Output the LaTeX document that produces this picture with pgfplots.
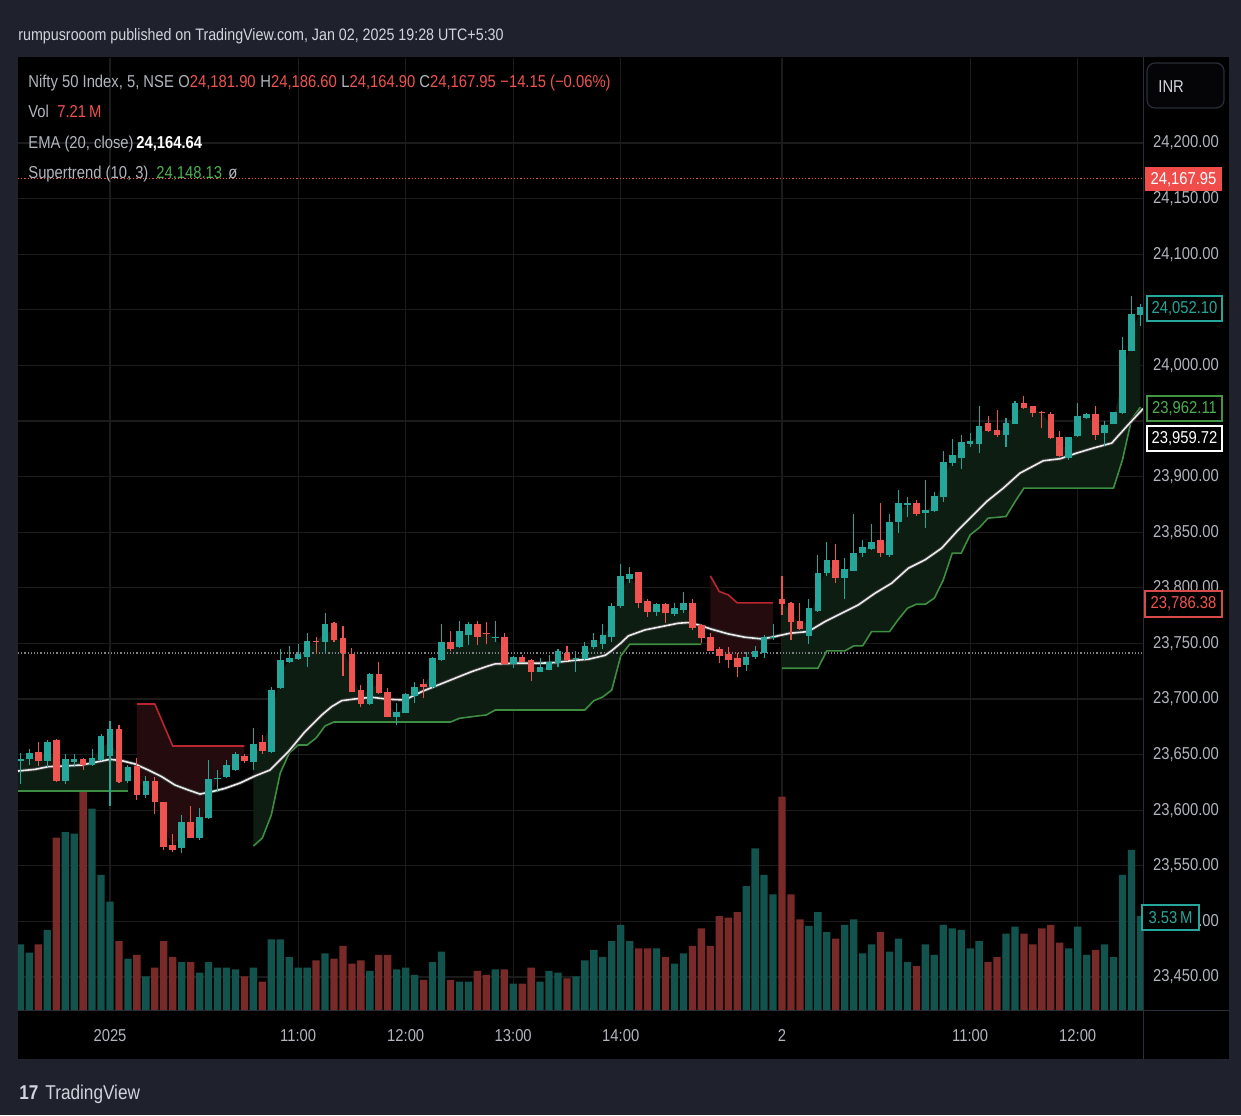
\documentclass[border=0pt]{standalone}
\usepackage{fontspec}
\setmainfont{Liberation Sans}[FakeStretch=0.86]
\usepackage{pgfplots}
\pgfplotsset{compat=1.18}
\usepackage{pgfplotstable}
\definecolor{frame}{HTML}{1F222D}
\definecolor{gridc}{HTML}{1B1B1B}
\definecolor{upc}{HTML}{26A69A}
\definecolor{dnc}{HTML}{EF5350}
\definecolor{vup}{HTML}{13534D}
\definecolor{vdn}{HTML}{782A28}
\definecolor{stg}{HTML}{3E8E41}
\definecolor{str}{HTML}{B8262F}
\definecolor{stgf}{HTML}{0E1D11}
\definecolor{strf}{HTML}{240C0E}
\definecolor{txt}{HTML}{B2B5BE}
\definecolor{wtxt}{HTML}{D1D4DC}
\definecolor{grn}{HTML}{4CAF50}
\definecolor{sep}{HTML}{2A2E39}

\pgfplotstableread{
i o h l c v
-10 23643.9 23651.7 23623.5 23645.7 2.47
-9 23645.7 23654.7 23640.6 23651.7 2.16
-8 23652.0 23661.6 23639.7 23644.2 2.47
-7 23644.2 23663.1 23638.5 23661.6 3.01
-6 23663.1 23664.0 23625.5 23626.5 6.48
-5 23626.2 23650.5 23623.2 23645.7 6.69
-4 23643.6 23650.5 23639.1 23645.7 6.63
-3 23645.7 23647.2 23636.1 23640.6 8.98
-2 23640.6 23654.7 23639.7 23647.2 7.57
-1 23645.1 23668.5 23644.5 23666.7 5.08
0 23648.7 23680.5 23603.7 23672.7 4.08
1 23672.7 23676.6 23624.1 23625.6 2.59
2 23626.5 23640.6 23624.7 23639.1 1.93
3 23639.7 23647.2 23609.1 23613.6 2.07
4 23613.6 23630.7 23610.6 23626.5 1.26
5 23626.5 23629.5 23596.5 23607.0 1.59
6 23607.0 23607.5 23564.1 23567.1 2.59
7 23568.6 23578.5 23562.6 23564.1 1.99
8 23565.6 23595.6 23561.1 23589.6 1.80
9 23589.6 23603.7 23574.6 23575.2 1.80
10 23575.2 23601.6 23573.1 23594.1 1.41
11 23592.6 23645.1 23592.0 23627.7 1.80
12 23627.7 23636.1 23616.6 23629.2 1.59
13 23629.8 23645.1 23628.9 23640.6 1.59
14 23636.1 23652.6 23635.5 23650.5 1.53
15 23648.7 23650.5 23642.7 23644.2 1.26
16 23643.6 23674.2 23636.1 23659.5 1.59
17 23661.6 23667.6 23650.5 23653.5 1.07
18 23652.6 23711.1 23651.1 23708.1 2.66
19 23709.6 23744.7 23709.0 23735.1 2.66
20 23733.6 23747.7 23732.1 23736.6 1.99
21 23735.7 23749.5 23735.1 23740.2 1.59
22 23737.5 23759.1 23729.1 23752.5 1.59
23 23752.5 23756.1 23740.5 23751.6 1.87
24 23751.6 23777.1 23741.1 23767.2 2.13
25 23768.7 23769.3 23751.6 23753.1 1.93
26 23754.6 23765.7 23720.7 23741.1 2.41
27 23740.2 23746.2 23706.0 23706.6 1.74
28 23708.1 23712.6 23692.5 23695.5 1.87
29 23695.5 23723.7 23695.0 23722.5 1.47
30 23722.5 23733.6 23704.6 23705.1 2.07
31 23706.6 23709.6 23683.5 23684.1 2.07
32 23684.1 23696.7 23676.3 23688.6 1.53
33 23687.7 23705.1 23687.1 23704.5 1.59
34 23702.7 23715.6 23696.7 23711.1 1.32
35 23713.2 23717.7 23700.6 23711.1 1.13
36 23710.5 23737.8 23710.0 23737.2 1.80
37 23735.1 23767.5 23734.5 23751.6 2.20
38 23751.6 23761.2 23743.5 23744.7 1.13
39 23746.5 23770.5 23746.0 23761.2 1.07
40 23757.6 23769.6 23748.6 23767.2 1.07
41 23767.5 23770.5 23748.6 23756.1 1.47
42 23759.7 23769.6 23749.5 23758.5 1.32
43 23754.6 23770.5 23751.6 23756.1 1.53
44 23756.1 23759.1 23730.6 23731.2 1.53
45 23731.5 23738.6 23727.6 23738.1 0.99
46 23738.1 23739.6 23733.1 23733.6 0.99
47 23735.1 23735.6 23716.2 23724.6 1.59
48 23724.6 23736.6 23724.1 23728.5 1.07
49 23726.1 23739.6 23725.6 23733.6 1.47
50 23732.7 23744.7 23729.1 23743.5 1.41
51 23741.1 23747.7 23734.5 23735.1 1.19
52 23735.7 23743.5 23724.0 23737.2 1.26
53 23735.7 23751.6 23735.2 23747.7 1.87
54 23746.5 23759.1 23744.7 23753.1 2.26
55 23749.5 23767.5 23745.0 23757.6 1.99
56 23756.1 23786.1 23751.6 23783.7 2.59
57 23783.7 23821.5 23781.6 23810.7 3.20
58 23807.7 23819.1 23804.1 23812.2 2.59
59 23814.0 23814.5 23782.2 23786.7 2.32
60 23788.2 23789.7 23773.5 23778.6 2.32
61 23778.6 23786.7 23774.7 23785.2 2.32
62 23785.2 23786.7 23768.7 23777.1 1.99
63 23776.5 23786.7 23774.7 23781.6 1.74
64 23780.1 23796.0 23777.7 23786.7 2.13
65 23786.7 23789.7 23762.1 23763.6 2.41
66 23766.6 23767.1 23750.1 23754.6 3.07
67 23756.1 23759.7 23743.0 23743.5 2.41
68 23744.7 23746.5 23732.1 23738.7 3.53
69 23740.2 23746.5 23727.6 23735.1 3.47
70 23736.6 23741.1 23719.5 23728.5 3.68
71 23730.6 23742.6 23725.5 23738.1 4.66
72 23737.5 23747.7 23736.0 23743.5 6.08
73 23741.7 23757.6 23736.6 23756.1 5.08
74 23754.6 23767.5 23753.1 23756.1 4.35
75 23789.7 23810.7 23775.6 23785.2 8.02
76 23786.7 23787.2 23753.1 23769.0 4.35
77 23770.5 23786.7 23762.1 23762.7 3.41
78 23756.7 23789.7 23749.5 23781.6 3.16
79 23779.5 23829.6 23778.6 23813.7 3.68
80 23813.7 23840.7 23810.7 23825.1 2.93
81 23825.1 23839.5 23804.1 23808.6 2.68
82 23808.6 23826.6 23789.7 23816.7 3.20
83 23815.5 23866.5 23815.0 23831.1 3.41
84 23831.7 23842.5 23828.1 23836.5 2.13
85 23834.7 23857.2 23834.1 23840.7 2.47
86 23842.5 23876.1 23828.1 23831.7 2.93
87 23829.6 23866.5 23828.1 23858.7 2.20
88 23858.7 23887.5 23849.1 23876.1 2.68
89 23874.6 23881.5 23863.5 23876.1 1.80
90 23876.1 23879.1 23864.7 23866.5 1.65
91 23867.1 23897.1 23853.6 23870.1 2.47
92 23868.6 23885.7 23868.0 23882.7 2.07
93 23881.2 23922.6 23876.7 23913.0 3.20
94 23912.1 23933.7 23909.1 23919.6 3.07
95 23916.6 23937.6 23906.7 23930.7 3.01
96 23929.5 23939.1 23926.5 23931.6 2.32
97 23929.5 23963.1 23921.1 23945.1 2.59
98 23948.1 23954.7 23940.1 23940.6 1.80
99 23942.1 23960.1 23935.5 23937.0 1.99
100 23937.6 23952.6 23926.5 23948.1 2.87
101 23947.5 23967.6 23947.0 23966.1 3.14
102 23966.1 23972.1 23961.1 23961.6 2.87
103 23963.1 23963.6 23953.5 23957.1 2.47
104 23958.3 23958.6 23943.6 23957.1 3.07
105 23956.5 23957.7 23933.7 23934.6 3.20
106 23935.5 23940.6 23917.6 23918.1 2.53
107 23916.6 23936.0 23915.1 23935.5 2.32
108 23936.1 23966.1 23935.6 23954.7 3.14
109 23952.6 23957.1 23951.7 23956.5 2.07
110 23956.5 23963.1 23933.1 23937.6 2.26
111 23939.1 23949.6 23927.1 23946.6 2.47
112 23947.5 23958.2 23947.0 23957.7 1.99
113 23957.1 24025.5 23956.6 24014.1 5.08
114 24013.2 24062.1 24012.6 24046.2 6.02
115 24045.0 24055.5 24035.1 24052.1 3.53
}\candles

\pgfplotstableread{
x y
-10.27 23617.5
2 23617.5
}\stA
\pgfplotstableread{
x y
3 23695.5
5 23695.5
7 23657.7
15 23657.7
}\stB
\pgfplotstableread{
x y
16 23567.7
17 23574.9
18 23595.6
19 23633.4
20 23651.4
21 23658.6
22 23658.6
23 23664.9
24 23675.7
25 23679.3
38 23679.3
39 23682.6
41 23684.7
42 23685.6
43 23690.1
53 23690.1
54 23698.5
55 23701.8
56 23708.1
57 23738.7
58 23749.2
66 23749.2
}\stC
\pgfplotstableread{
x y
67 23810.7
68 23796.6
69 23793.6
70 23786.4
74 23786.4
}\stD
\pgfplotstableread{
x y
75 23727.6
79 23727.6
80 23743.2
82 23743.2
83 23747.7
84 23747.7
85 23760.6
87 23760.6
88 23771.7
89 23781.6
90 23785.2
91 23785.2
92 23790.6
93 23807.1
94 23831.1
95 23831.1
96 23847.6
97 23853.9
98 23862.6
100 23864.1
101 23877.3
102 23889.6
112 23889.6
113 23915.1
114 23951.1
115 23962.4
}\stE
\pgfplotstableread{
x y
-10.27 23635.2
-8.37 23636.7
-6.89 23639.1
-5.02 23639.7
-3.16 23640.6
-1.31 23643.6
0 23645.7
1.31 23644.5
2.79 23641.5
4.27 23636.1
5.77 23630.1
7.25 23622.6
8.74 23618.1
10.04 23614.5
11.35 23616.6
12.83 23619.6
14.51 23624.4
16.18 23630.7
17.86 23636.1
19.9 23652.6
21.76 23670.6
23.63 23685.6
24.74 23693.1
25.86 23698.5
27.34 23700.0
29.21 23701.5
31.06 23699.7
32.92 23699.1
34.79 23706.6
36.64 23712.6
38.5 23718.6
40.37 23724.6
42.22 23729.7
42.97 23731.5
45.2 23732.1
47.8 23732.1
49.67 23732.7
51.53 23734.5
53.38 23735.7
55.25 23739.2
56 23743.5
57 23750.2
57.85 23756.7
59.71 23762.1
61.57 23765.1
63.43 23768.1
64.54 23768.7
65.66 23766.6
67.15 23762.7
69.0 23758.5
70.87 23755.5
72.73 23754.0
73.85 23755.5
75.89 23759.1
77.93 23760.6
79.8 23769.6
81.66 23777.1
83.52 23784.6
85.38 23795.1
87.24 23804.1
89.1 23817.6
90.96 23825.1
92.82 23835.6
94.68 23852.1
96.54 23867.1
97.85 23877.6
99.7 23889.6
101.56 23903.1
104.16 23914.2
106.03 23916.0
107.89 23921.1
109.74 23925.6
111.8 23930.1
113.47 23945.1
115.29 23961.0
}\ema

\pgfplotsset{base/.style={at={(9pt,52.5pt)}, anchor=south west, scale only axis,
  width=562.5pt, height=476pt, xmin=-10.27, xmax=115.29},
  candle/.style={only marks, mark=*, mark size=0pt, mark options={draw=none, fill=none},
    error bars/.cd, y dir=plus, y explicit, error mark=none}}
\newcommand\fs{\fontsize{8.6}{10}\selectfont}

\begin{document}
\begin{tikzpicture}
\begin{scope}[yshift=557.5pt, x=0.5pt, y=-0.5pt]
  \fill[frame] (0,0) rectangle (1241,1115);
  \fill[black] (18,57) rectangle (1229,1059);
  \node[anchor=base west, inner sep=0, text=wtxt, font=\fontsize{8.3}{10}\selectfont] at (18,41)
    {rumpusrooom published on TradingView.com, Jan 02, 2025 19:28 UTC+5:30};
\end{scope}

% grid and tick labels
\begin{axis}[base, ymin=23420.3, ymax=24276.4,
  axis line style={draw=none}, major tick length=0pt,
  scaled y ticks=false, scaled x ticks=false,
  xtick={0,21,33,45,57,75,96,108},
  xticklabels={2025,11:00,12:00,13:00,14:00,2,11:00,12:00},
  ytick={23450,23500,...,24200},
  yticklabels={{23,450.00},{23,500.00},{23,550.00},{23,600.00},{23,650.00},{23,700.00},{23,750.00},{23,800.00},{23,850.00},{23,900.00},{},{24,000.00},{},{24,100.00},{24,150.00},{24,200.00}},
  yticklabel pos=right,
  xmajorgrids, ymajorgrids, grid style={gridc, line width=0.6pt},
  ticklabel style={font=\fs, text=txt},
  xticklabel style={anchor=center, yshift=-12.5pt, text height=6.2pt, text depth=0pt},
  yticklabel style={anchor=center, xshift=21.5pt}]
\addplot[draw=none, mark=none] coordinates {(0,23500)};
\end{axis}

% volume
\begin{axis}[base, ymin=0, ymax=35.8, hide axis]
\addplot[ybar, bar width=3.65pt, bar shift=0pt, fill=vup, draw=none, mark=none]
  table[x expr={\thisrow{c}>=\thisrow{o} ? \thisrow{i} : nan}, y=v] {\candles};
\addplot[ybar, bar width=3.65pt, bar shift=0pt, fill=vdn, draw=none, mark=none]
  table[x expr={\thisrow{c}<\thisrow{o} ? \thisrow{i} : nan}, y=v] {\candles};
\end{axis}

% price content
\begin{axis}[base, ymin=23420.3, ymax=24276.4, axis lines=none, ticks=none]
% supertrend fills: trend line forward, body middle (open+close)/2 back
\addplot[fill=stgf, draw=none, mark=none] coordinates {(-10.27,23617.5) (2,23617.5) (2,23632.8) (1,23649.2) (0,23660.7) (-1,23655.9) (-2,23643.9) (-3,23643.2) (-4,23644.7) (-5,23636.0) (-6,23644.8) (-7,23652.9) (-8,23648.1) (-9,23648.7) (-10,23644.8) (-10.27,23644.8)};
\addplot[fill=strf, draw=none, mark=none] coordinates {(3,23695.5) (5,23695.5) (7,23657.7) (15,23657.7) (15,23646.5) (14,23643.3) (13,23635.2) (12,23628.5) (11,23610.2) (10,23584.7) (9,23582.4) (8,23577.6) (7,23566.4) (6,23587.1) (5,23616.8) (4,23620.1) (3,23626.7)};
\addplot[fill=stgf, draw=none, mark=none] coordinates {(16,23567.7) (17,23574.9) (18,23595.6) (19,23633.4) (20,23651.4) (21,23658.6) (22,23658.6) (23,23664.9) (24,23675.7) (25,23679.3) (38,23679.3) (39,23682.6) (41,23684.7) (42,23685.6) (43,23690.1) (53,23690.1) (54,23698.5) (55,23701.8) (56,23708.1) (57,23738.7) (58,23749.2) (66,23749.2)
 (66,23760.6) (65,23775.2) (64,23783.4) (63,23779.1) (62,23781.2) (61,23781.9) (60,23783.4) (59,23800.4) (58,23810.0) (57,23797.2) (56,23769.9) (55,23753.6) (54,23749.8) (53,23741.7) (52,23736.5) (51,23738.1) (50,23738.1) (49,23729.9) (48,23726.6) (47,23729.9) (46,23735.9) (45,23734.8) (44,23743.7) (43,23755.4) (42,23759.1) (41,23761.8) (40,23762.4) (39,23753.9) (38,23748.2) (37,23743.4) (36,23723.9) (35,23712.2) (34,23706.9) (33,23696.1) (32,23686.4) (31,23695.4) (30,23713.8) (29,23709.0) (28,23701.8) (27,23723.4) (26,23747.9) (25,23760.9) (24,23759.4) (23,23752.1) (22,23745.0) (21,23738.0) (20,23735.1) (19,23722.4) (18,23680.4) (17,23657.6) (16,23651.6)};
\addplot[fill=strf, draw=none, mark=none] coordinates {(67,23810.7) (68,23796.6) (69,23793.6) (70,23786.4) (74,23786.4) (74,23755.4) (73,23748.9) (72,23740.5) (71,23734.4) (70,23732.6) (69,23737.7) (68,23741.7) (67,23749.8)};
\addplot[fill=stgf, draw=none, mark=none] coordinates {(75,23727.6) (79,23727.6) (80,23743.2) (82,23743.2) (83,23747.7) (84,23747.7) (85,23760.6) (87,23760.6) (88,23771.7) (89,23781.6) (90,23785.2) (91,23785.2) (92,23790.6) (93,23807.1) (94,23831.1) (95,23831.1) (96,23847.6) (97,23853.9) (98,23862.6) (100,23864.1) (101,23877.3) (102,23889.6) (112,23889.6) (113,23915.1) (114,23951.1) (115,23962.4)
 (115,24048.6) (114,24029.7) (113,23985.6) (112,23952.6) (111,23942.9) (110,23947.1) (109,23954.6) (108,23945.4) (107,23926.1) (106,23926.8) (105,23945.6) (104,23957.7) (103,23960.1) (102,23963.9) (101,23956.8) (100,23942.9) (99,23939.6) (98,23944.4) (97,23937.3) (96,23930.6) (95,23923.7) (94,23915.9) (93,23897.1) (92,23875.7) (91,23868.6) (90,23871.3) (89,23875.4) (88,23867.4) (87,23844.2) (86,23837.1) (85,23837.7) (84,23834.1) (83,23823.3) (82,23812.7) (81,23816.9) (80,23819.4) (79,23796.6) (78,23769.2) (77,23766.6) (76,23777.9) (75,23787.5)};
\addplot[densely dotted, color=txt!70!black, line width=0.6pt, mark=none] coordinates {(-10.27,23741.4) (115.29,23741.4)};
\addplot[densely dotted, color=dnc, line width=0.6pt, mark=none] coordinates {(-10.27,24167.95) (115.29,24167.95)};
\addplot[stg, line width=0.8pt, mark=none] table {\stA};
\addplot[str, line width=0.8pt, mark=none] table {\stB};
\addplot[stg, line width=0.8pt, mark=none] table {\stC};
\addplot[str, line width=0.8pt, mark=none] table {\stD};
\addplot[stg, line width=0.8pt, mark=none] table {\stE};
\addplot[color=gray!45!black, line width=1.8pt, mark=none] table {\ema};
\addplot[color=white!85!gray, line width=0.8pt, mark=none] table {\ema};
% wicks
\addplot[candle, error bar style={solid, draw=upc, line width=0.55pt}]
  table[x expr={\thisrow{c}>=\thisrow{o} ? \thisrow{i} : nan}, y=l, y error plus expr={\thisrow{h}-\thisrow{l}}] {\candles};
\addplot[candle, error bar style={solid, draw=dnc, line width=0.55pt}]
  table[x expr={\thisrow{c}<\thisrow{o} ? \thisrow{i} : nan}, y=l, y error plus expr={\thisrow{h}-\thisrow{l}}] {\candles};
% bodies
\addplot[candle, error bar style={solid, draw=upc, line width=3.3pt}]
  table[x expr={\thisrow{c}>=\thisrow{o} ? \thisrow{i} : nan}, y=o, y error plus expr={max(\thisrow{c}-\thisrow{o},0.7)}] {\candles};
\addplot[candle, error bar style={solid, draw=dnc, line width=3.3pt}]
  table[x expr={\thisrow{c}<\thisrow{o} ? \thisrow{i} : nan}, y=c, y error plus expr={max(\thisrow{o}-\thisrow{c},0.7)}] {\candles};
\end{axis}

\begin{scope}[yshift=557.5pt, x=0.5pt, y=-0.5pt]
  \draw[sep, line width=0.5pt] (1143,57) -- (1143,1059);
  \draw[sep, line width=0.5pt] (18,1010) -- (1229,1010);
  % legend
  \begin{scope}[every node/.style={anchor=base west, inner sep=0, font=\fs}]
    \node[text=txt] at (28,88) {Nifty 50 Index, 5, NSE};
    \node at (178,88) {\color{txt}O\color{dnc}24,181.90};
    \node at (260,88) {\color{txt}H\color{dnc}24,186.60};
    \node at (341,88) {\color{txt}L\color{dnc}24,164.90};
    \node at (419,88) {\color{txt}C\color{dnc}24,167.95};
    \node[text=dnc] at (500,88) {−14.15 (−0.06\%)};
    \node[text=txt] at (28,118) {Vol};
    \node[text=dnc] at (57,118) {7.21\,M};
    \node[text=txt] at (28,149) {EMA (20, close)};
    \node[text=white] at (136,149) {\bfseries 24,164.64};
    \node[text=txt] at (28,179) {Supertrend (10, 3)};
    \node[text=grn] at (156,179) {24,148.13};
    \node[text=txt] at (228,179) {ø};
  \end{scope}
  % INR button
  \draw[sep, fill=black!85!frame, rounded corners=4pt, line width=0.6pt] (1147,63) rectangle (1224,108);
  \node[anchor=base west, inner sep=0, text=wtxt, font=\fs] at (1158,93) {INR};
  % price boxes
  \begin{scope}[every node/.style={inner sep=0, font=\fs}]
    \fill[dnc!92!red] (1145,167) rectangle (1222,191);
    \node[text=white] at (1183.5,179.5) {24,167.95};
    \draw[upc, fill=black, line width=0.6pt] (1147,296) rectangle (1222,321);
    \node[text=upc] at (1184.5,308.5) {24,052.10};
    \draw[grn!85!black, fill=black, line width=0.6pt] (1147,396) rectangle (1222,421);
    \node[text=grn] at (1184.5,408.5) {23,962.11};
    \draw[white, fill=black, line width=0.6pt] (1147,426) rectangle (1222,451);
    \node[text=white] at (1184.5,438.5) {23,959.72};
    \draw[dnc!90!black, fill=black, line width=0.6pt] (1145,591) rectangle (1222,617);
    \node[text=dnc] at (1183.5,604) {23,786.38};
    \draw[upc, fill=black, line width=0.6pt] (1142,905) rectangle (1199,930);
    \node[text=upc] at (1170.5,917.5) {3.53\,M};
  \end{scope}
  % footer logo
  \node[anchor=base west, inner sep=0, text=wtxt, font=\fontsize{10}{12}\selectfont\bfseries] at (19,1099) {17};
  \node[anchor=base west, inner sep=0, text=wtxt, font=\fontsize{10}{12}\selectfont] at (45,1099) {TradingView};
\end{scope}
\pgfresetboundingbox
\useasboundingbox (0,0) rectangle (620.5pt,557.5pt);
\end{tikzpicture}
\end{document}
